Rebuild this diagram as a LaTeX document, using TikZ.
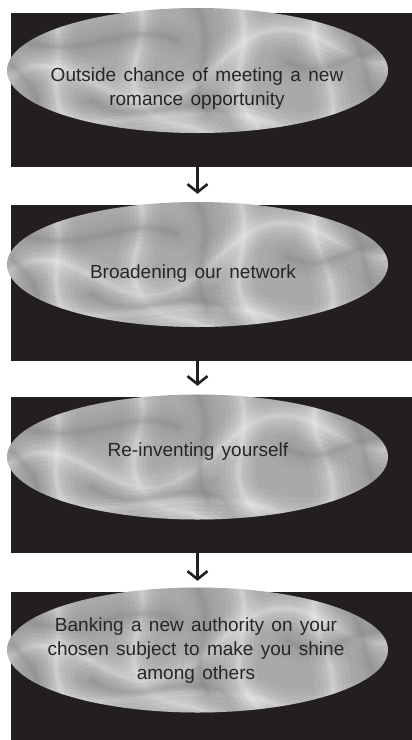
\documentclass[tikz,border=0pt]{standalone}
\usepackage{fontspec}
\setmainfont{Liberation Sans}[WordSpace=1.4]
\usetikzlibrary{shapes.geometric,arrows.meta}
\definecolor{boxblack}{HTML}{231F20}
\definecolor{marblebase}{HTML}{A9A9A9}
\definecolor{marbledark}{HTML}{808080}
\definecolor{textgray}{HTML}{262626}
\newcommand{\glowstreak}[2]{%
  \foreach \w/\o in {36/0.06,26/0.08,17/0.10,9/0.13,4/0.16}{%
    \draw[line width=\w pt, draw=#1, opacity=\o, line cap=round] #2;}}
\newcommand{\marblepattern}{%
  \glowstreak{white}{(-195,12) .. controls (-130,-40) and (-90,50) .. (-30,28) .. controls (20,12) and (40,-52) .. (100,-40) .. controls (140,-30) and (160,2) .. (200,-10)}
  \glowstreak{white}{(-150,-65) .. controls (-120,-20) and (-165,20) .. (-120,65)}
  \glowstreak{white}{(-60,-70) .. controls (-40,-30) and (-85,0) .. (-50,40) .. controls (-30,60) and (0,50) .. (20,70)}
  \glowstreak{white}{(40,-70) .. controls (62,-20) and (18,20) .. (60,55)}
  \glowstreak{white}{(122,-62) .. controls (100,-20) and (152,10) .. (130,62)}
  \glowstreak{white}{(-195,42) .. controls (-100,72) and (0,22) .. (80,55) .. controls (120,70) and (160,40) .. (200,50)}
  \glowstreak{marbledark}{(-175,-30) .. controls (-110,-8) and (-70,-52) .. (-20,-30)}
  \glowstreak{marbledark}{(0,-62) .. controls (22,-20) and (-12,10) .. (10,42)}
  \glowstreak{marbledark}{(90,-8) .. controls (130,12) and (150,-22) .. (195,-20)}
  \glowstreak{marbledark}{(-105,30) .. controls (-60,62) and (-20,18) .. (30,44)}
  \glowstreak{marbledark}{(-185,-5) .. controls (-160,20) and (-150,40) .. (-170,55)}
  \glowstreak{marbledark}{(150,-45) .. controls (170,-20) and (165,20) .. (185,35)}
}
\tikzset{
  panel/.style={rectangle, fill=boxblack, draw=none, inner sep=0pt, minimum width=401pt},
  marble/.style={ellipse, inner sep=0pt, minimum width=381pt, minimum height=125pt,
    fill=marblebase, draw=none,
    path picture={\begin{scope}[shift={(path picture bounding box.center)}, #1]\marblepattern\end{scope}}},
  marble/.default={},
  label/.style={text=textgray, align=center, inner sep=0pt,
    font=\fontsize{19}{24}\selectfont},
  flow/.style={draw=boxblack, line width=2.6pt,
    -{Straight Barb[length=8pt,width=20pt,line width=2.6pt]}, shorten >=11pt}
}
\begin{document}
\begin{tikzpicture}[x=1pt,y=-1pt]
\useasboundingbox[fill=white] (0,0) rectangle (412,740);
% panels
\node[panel, minimum height=154pt] (b1) at (211.5,90) {};
\node[panel, minimum height=156pt] (b2) at (211.5,283) {};
\node[panel, minimum height=156pt] (b3) at (211.5,475) {};
\node[panel, minimum height=148pt] (b4) at (211.5,666) {};
% ellipses
\node[marble] (e1) at (197.5,70.5) {};
\node[marble={xscale=-1}] (e2) at (197.5,264.5) {};
\node[marble={yscale=-1}] (e3) at (197.5,457) {};
\node[marble={xscale=-1,yscale=-1}] (e4) at (197.5,650) {};
% texts
\node[label] (t1) at (197,89) {Outside chance of meeting a new\\romance opportunity};
\node[label] (t2) at (193,274) {Broadening our network};
\node[label] (t3) at (198,452) {Re-inventing yourself};
\node[label] (t4) at (196,651) {Banking a new authority on your\\chosen subject to make you shine\\among others};
% arrows
\draw[flow] (b1.south -| e1.center) -- (b2.north -| e1.center);
\draw[flow] (b2.south -| e2.center) -- (b3.north -| e2.center);
\draw[flow] (b3.south -| e3.center) -- (b4.north -| e3.center);
\end{tikzpicture}
\end{document}
